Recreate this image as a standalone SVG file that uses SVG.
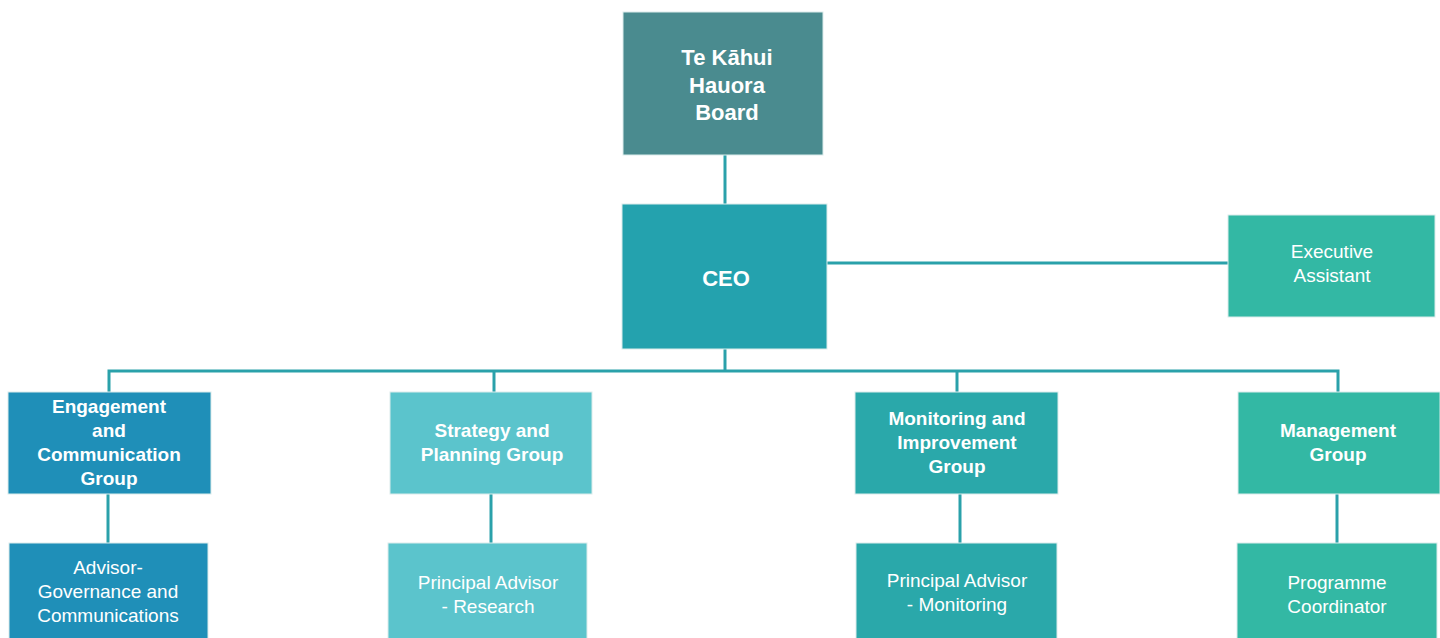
<svg xmlns="http://www.w3.org/2000/svg" width="1440" height="638" viewBox="0 0 1440 638">
  <style>
    .box { stroke: #dbeceb; stroke-width: 1; }
    .t { font-family: "Liberation Sans", Arial, sans-serif; fill: #ffffff; text-anchor: middle; dominant-baseline: central; }
    .b { font-weight: bold; font-size: 19px; }
    .r { font-size: 19px; }
    .big { font-weight: bold; font-size: 22px; }
    .link { stroke: #2aa1aa; stroke-width: 3; fill: none; }
  </style>
  <rect width="1440" height="638" fill="#ffffff"/>

  <g id="connectors">
    <line class="link" x1="725" y1="155" x2="725" y2="204"/>
    <line class="link" x1="827" y1="263" x2="1228" y2="263"/>
    <line class="link" x1="725" y1="349" x2="725" y2="371"/>
    <polyline class="link" points="109,392 109,371 1338,371 1338,392"/>
    <line class="link" x1="494" y1="371" x2="494" y2="392"/>
    <line class="link" x1="957" y1="371" x2="957" y2="392"/>
    <line class="link" x1="108" y1="494" x2="108" y2="543"/>
    <line class="link" x1="491" y1="494" x2="491" y2="543"/>
    <line class="link" x1="960" y1="494" x2="960" y2="543"/>
    <line class="link" x1="1337" y1="494" x2="1337" y2="543"/>
  </g>

  <g id="board">
    <rect class="box" x="623" y="12" width="200" height="143" fill="#4a8b8f"/>
    <text class="t big" x="727" y="57">Te Kāhui</text>
    <text class="t big" x="727" y="85">Hauora</text>
    <text class="t big" x="727" y="112">Board</text>
  </g>

  <g id="ceo">
    <rect class="box" x="622" y="204" width="205" height="145" fill="#24a2ae"/>
    <text class="t big" x="726" y="278">CEO</text>
  </g>

  <g id="executive-assistant">
    <rect class="box" x="1228" y="215" width="207" height="102" fill="#33b8a4"/>
    <text class="t r" x="1332" y="251">Executive</text>
    <text class="t r" x="1332" y="275">Assistant</text>
  </g>

  <g id="engagement">
    <rect class="box" x="8" y="392" width="203" height="102" fill="#1f8fb8"/>
    <text class="t b" x="109" y="406">Engagement</text>
    <text class="t b" x="109" y="430">and</text>
    <text class="t b" x="109" y="454">Communication</text>
    <text class="t b" x="109" y="478">Group</text>
  </g>

  <g id="strategy">
    <rect class="box" x="390" y="392" width="202" height="102" fill="#5bc4cc"/>
    <text class="t b" x="492" y="430">Strategy and</text>
    <text class="t b" x="492" y="454">Planning Group</text>
  </g>

  <g id="monitoring">
    <rect class="box" x="855" y="392" width="203" height="102" fill="#2aa8aa"/>
    <text class="t b" x="957" y="418">Monitoring and</text>
    <text class="t b" x="957" y="442">Improvement</text>
    <text class="t b" x="957" y="466">Group</text>
  </g>

  <g id="management">
    <rect class="box" x="1238" y="392" width="202" height="102" fill="#33b8a4"/>
    <text class="t b" x="1338" y="430">Management</text>
    <text class="t b" x="1338" y="454">Group</text>
  </g>

  <g id="advisor-governance">
    <rect class="box" x="9" y="543" width="199" height="100" fill="#1f8fb8"/>
    <text class="t r" x="108" y="567">Advisor-</text>
    <text class="t r" x="108" y="591">Governance and</text>
    <text class="t r" x="108" y="615">Communications</text>
  </g>

  <g id="advisor-research">
    <rect class="box" x="388" y="543" width="199" height="100" fill="#5bc4cc"/>
    <text class="t r" x="488" y="582">Principal Advisor</text>
    <text class="t r" x="488" y="606">- Research</text>
  </g>

  <g id="advisor-monitoring">
    <rect class="box" x="856" y="543" width="201" height="100" fill="#2aa8aa"/>
    <text class="t r" x="957" y="580">Principal Advisor</text>
    <text class="t r" x="957" y="604">- Monitoring</text>
  </g>

  <g id="programme-coordinator">
    <rect class="box" x="1237" y="543" width="200" height="100" fill="#33b8a4"/>
    <text class="t r" x="1337" y="582">Programme</text>
    <text class="t r" x="1337" y="606">Coordinator</text>
  </g>
</svg>
